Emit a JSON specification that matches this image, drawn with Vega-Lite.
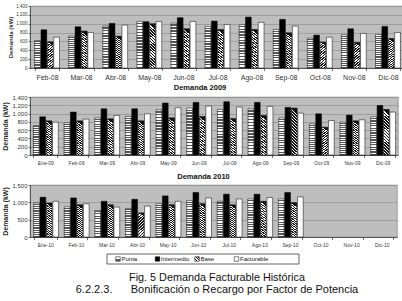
{
  "$schema": "https://vega.github.io/schema/vega-lite/v6.json",
  "padding": {"left": 1, "top": 2, "right": 0, "bottom": 0},
  "background": "white",
  "config": {
    "font": "Liberation Sans",
    "text": {"opacity": 0.99},
    "title": {"opacity": 0.99},
    "axis": {"labelColor": "#222", "titleColor": "#222", "labelOpacity": 0.99, "titleOpacity": 0.99, "domainColor": "#333", "tickColor": "#333", "domainWidth": 0.7, "tickWidth": 0.7, "gridColor": "#888", "gridWidth": 0.6}
  },
  "datasets": {
    "d08": [
      {"mes": "Feb-08", "Punta": 620, "Intermedio": 863, "Base": 590, "Facturable": 696},
      {"mes": "Mar-08", "Punta": 720, "Intermedio": 931, "Base": 833, "Facturable": 802},
      {"mes": "Abr-08", "Punta": 946, "Intermedio": 1007, "Base": 719, "Facturable": 969},
      {"mes": "May-08", "Punta": 1052, "Intermedio": 1045, "Base": 1000, "Facturable": 1052},
      {"mes": "Jun-08", "Punta": 1014, "Intermedio": 1136, "Base": 886, "Facturable": 1052},
      {"mes": "Jul-08", "Punta": 940, "Intermedio": 1060, "Base": 870, "Facturable": 984},
      {"mes": "Ago-08", "Punta": 977, "Intermedio": 1150, "Base": 870, "Facturable": 1030},
      {"mes": "Sep-08", "Punta": 870, "Intermedio": 1098, "Base": 795, "Facturable": 946},
      {"mes": "Oct-08", "Punta": 674, "Intermedio": 742, "Base": 583, "Facturable": 696},
      {"mes": "Nov-08", "Punta": 750, "Intermedio": 886, "Base": 575, "Facturable": 780},
      {"mes": "Dic-08", "Punta": 757, "Intermedio": 939, "Base": 666, "Facturable": 802}
    ],
    "d09": [
      {"mes": "Ene-09", "Punta": 712, "Intermedio": 922, "Base": 825, "Facturable": 793},
      {"mes": "Feb-09", "Punta": 777, "Intermedio": 1036, "Base": 825, "Facturable": 866},
      {"mes": "Mar-09", "Punta": 898, "Intermedio": 1116, "Base": 874, "Facturable": 955},
      {"mes": "Abr-09", "Punta": 930, "Intermedio": 1116, "Base": 825, "Facturable": 995},
      {"mes": "May-09", "Punta": 1092, "Intermedio": 1254, "Base": 898, "Facturable": 1141},
      {"mes": "Jun-09", "Punta": 1133, "Intermedio": 1270, "Base": 930, "Facturable": 1181},
      {"mes": "Jul-09", "Punta": 1100, "Intermedio": 1286, "Base": 882, "Facturable": 1157},
      {"mes": "Ago-09", "Punta": 1116, "Intermedio": 1270, "Base": 955, "Facturable": 1173},
      {"mes": "Sep-09", "Punta": 898, "Intermedio": 1149, "Base": 1133, "Facturable": 1011},
      {"mes": "Oct-09", "Punta": 752, "Intermedio": 995, "Base": 671, "Facturable": 833},
      {"mes": "Nov-09", "Punta": 793, "Intermedio": 963, "Base": 825, "Facturable": 850},
      {"mes": "Dic-09", "Punta": 922, "Intermedio": 1197, "Base": 1100, "Facturable": 1036}
    ],
    "d10": [
      {"mes": "Ene-10", "Punta": 980, "Intermedio": 1147, "Base": 980, "Facturable": 1029},
      {"mes": "Feb-10", "Punta": 872, "Intermedio": 1127, "Base": 931, "Facturable": 960},
      {"mes": "Mar-10", "Punta": 764, "Intermedio": 1029, "Base": 931, "Facturable": 862},
      {"mes": "Abr-10", "Punta": 823, "Intermedio": 1088, "Base": 696, "Facturable": 892},
      {"mes": "May-10", "Punta": 960, "Intermedio": 1186, "Base": 931, "Facturable": 1029},
      {"mes": "Jun-10", "Punta": 1049, "Intermedio": 1284, "Base": 960, "Facturable": 1127},
      {"mes": "Jul-10", "Punta": 1029, "Intermedio": 1235, "Base": 931, "Facturable": 1098},
      {"mes": "Ago-10", "Punta": 1098, "Intermedio": 1235, "Base": 1029, "Facturable": 1137},
      {"mes": "Sep-10", "Punta": 1098, "Intermedio": 1284, "Base": 990, "Facturable": 1157}
    ],
    "series": [{"serie": "Punta"}, {"serie": "Intermedio"}, {"serie": "Base"}, {"serie": "Facturable"}]
  },
  "title": {
    "text": "Fig. 5 Demanda Facturable Histórica\u00a0\u00a0\u00a0\u00a0\u00a0\u00a0\u00a0\u00a0\u00a0\u00a0\u00a0\u00a0\u00a0",
    "subtitle": "6.2.2.3.\u00a0\u00a0\u00a0\u00a0\u00a0\u00a0Bonificación o Recargo por Factor de Potencia",
    "orient": "bottom", "anchor": "middle", "frame": "bounds",
    "fontSize": 10.8, "fontWeight": "normal", "color": "#111",
    "subtitleFontSize": 11, "subtitleColor": "#111", "subtitlePadding": 2,
    "dx": 13.5, "offset": 7
  },
  "columns": 1,
  "align": "none",
  "spacing": 2,
  "concat": [
    {
      "data": {"name": "d08"},
      "transform": [{"fold": ["Punta", "Intermedio", "Base", "Facturable"], "as": ["serie", "kw"]}],
      "width": 375,
      "height": 62,
      "view": {"fill": "#bebebe", "stroke": "#808080", "strokeWidth": 0.7},
      "mark": {"type": "bar", "stroke": "black", "strokeWidth": 0.5},
      "encoding": {
        "x": {"field": "mes", "type": "ordinal", "sort": null, "scale": {"paddingInner": 0.27, "paddingOuter": 0.135},
              "axis": {"title": null, "labelAngle": 0, "labelFontSize": 7, "labelPadding": 3, "tickSize": 2.5, "tickBand": "extent"}},
        "xOffset": {"field": "serie", "sort": ["Punta", "Intermedio", "Base", "Facturable"], "scale": {"paddingInner": 0.1}},
        "y": {"field": "kw", "type": "quantitative", "scale": {"domain": [0, 1400]},
              "axis": {"values": [0, 200, 400, 600, 800, 1000, 1200, 1400], "format": ",d", "title": "Demanda (kW)", "titleFontSize": 6, "titlePadding": 2, "labelFontSize": 4.5, "labelPadding": 1, "tickSize": 2}},
        "fill": {"condition": [
          {"test": "datum.serie === 'Intermedio'", "value": "black"},
          {"test": "datum.serie === 'Punta'", "value": {"gradient": "linear", "x1": 0, "y1": 0, "x2": 0, "y2": 1, "stops": [{"offset":0,"color":"#fff"},{"offset":0.03125,"color":"#fff"},{"offset":0.03125,"color":"#555"},{"offset":0.0625,"color":"#555"},{"offset":0.0625,"color":"#fff"},{"offset":0.09375,"color":"#fff"},{"offset":0.09375,"color":"#555"},{"offset":0.125,"color":"#555"},{"offset":0.125,"color":"#fff"},{"offset":0.15625,"color":"#fff"},{"offset":0.15625,"color":"#555"},{"offset":0.1875,"color":"#555"},{"offset":0.1875,"color":"#fff"},{"offset":0.21875,"color":"#fff"},{"offset":0.21875,"color":"#555"},{"offset":0.25,"color":"#555"},{"offset":0.25,"color":"#fff"},{"offset":0.28125,"color":"#fff"},{"offset":0.28125,"color":"#555"},{"offset":0.3125,"color":"#555"},{"offset":0.3125,"color":"#fff"},{"offset":0.34375,"color":"#fff"},{"offset":0.34375,"color":"#555"},{"offset":0.375,"color":"#555"},{"offset":0.375,"color":"#fff"},{"offset":0.40625,"color":"#fff"},{"offset":0.40625,"color":"#555"},{"offset":0.4375,"color":"#555"},{"offset":0.4375,"color":"#fff"},{"offset":0.46875,"color":"#fff"},{"offset":0.46875,"color":"#555"},{"offset":0.5,"color":"#555"},{"offset":0.5,"color":"#fff"},{"offset":0.53125,"color":"#fff"},{"offset":0.53125,"color":"#555"},{"offset":0.5625,"color":"#555"},{"offset":0.5625,"color":"#fff"},{"offset":0.59375,"color":"#fff"},{"offset":0.59375,"color":"#555"},{"offset":0.625,"color":"#555"},{"offset":0.625,"color":"#fff"},{"offset":0.65625,"color":"#fff"},{"offset":0.65625,"color":"#555"},{"offset":0.6875,"color":"#555"},{"offset":0.6875,"color":"#fff"},{"offset":0.71875,"color":"#fff"},{"offset":0.71875,"color":"#555"},{"offset":0.75,"color":"#555"},{"offset":0.75,"color":"#fff"},{"offset":0.78125,"color":"#fff"},{"offset":0.78125,"color":"#555"},{"offset":0.8125,"color":"#555"},{"offset":0.8125,"color":"#fff"},{"offset":0.84375,"color":"#fff"},{"offset":0.84375,"color":"#555"},{"offset":0.875,"color":"#555"},{"offset":0.875,"color":"#fff"},{"offset":0.90625,"color":"#fff"},{"offset":0.90625,"color":"#555"},{"offset":0.9375,"color":"#555"},{"offset":0.9375,"color":"#fff"},{"offset":0.96875,"color":"#fff"},{"offset":0.96875,"color":"#555"},{"offset":1,"color":"#555"}]}},
          {"test": "datum.serie === 'Base'", "value": {"gradient": "linear", "x1": 0, "y1": 1, "x2": 0.12, "y2": 0, "stops": [{"offset":0,"color":"#fff"},{"offset":0.03125,"color":"#fff"},{"offset":0.03125,"color":"#111"},{"offset":0.0625,"color":"#111"},{"offset":0.0625,"color":"#fff"},{"offset":0.09375,"color":"#fff"},{"offset":0.09375,"color":"#111"},{"offset":0.125,"color":"#111"},{"offset":0.125,"color":"#fff"},{"offset":0.15625,"color":"#fff"},{"offset":0.15625,"color":"#111"},{"offset":0.1875,"color":"#111"},{"offset":0.1875,"color":"#fff"},{"offset":0.21875,"color":"#fff"},{"offset":0.21875,"color":"#111"},{"offset":0.25,"color":"#111"},{"offset":0.25,"color":"#fff"},{"offset":0.28125,"color":"#fff"},{"offset":0.28125,"color":"#111"},{"offset":0.3125,"color":"#111"},{"offset":0.3125,"color":"#fff"},{"offset":0.34375,"color":"#fff"},{"offset":0.34375,"color":"#111"},{"offset":0.375,"color":"#111"},{"offset":0.375,"color":"#fff"},{"offset":0.40625,"color":"#fff"},{"offset":0.40625,"color":"#111"},{"offset":0.4375,"color":"#111"},{"offset":0.4375,"color":"#fff"},{"offset":0.46875,"color":"#fff"},{"offset":0.46875,"color":"#111"},{"offset":0.5,"color":"#111"},{"offset":0.5,"color":"#fff"},{"offset":0.53125,"color":"#fff"},{"offset":0.53125,"color":"#111"},{"offset":0.5625,"color":"#111"},{"offset":0.5625,"color":"#fff"},{"offset":0.59375,"color":"#fff"},{"offset":0.59375,"color":"#111"},{"offset":0.625,"color":"#111"},{"offset":0.625,"color":"#fff"},{"offset":0.65625,"color":"#fff"},{"offset":0.65625,"color":"#111"},{"offset":0.6875,"color":"#111"},{"offset":0.6875,"color":"#fff"},{"offset":0.71875,"color":"#fff"},{"offset":0.71875,"color":"#111"},{"offset":0.75,"color":"#111"},{"offset":0.75,"color":"#fff"},{"offset":0.78125,"color":"#fff"},{"offset":0.78125,"color":"#111"},{"offset":0.8125,"color":"#111"},{"offset":0.8125,"color":"#fff"},{"offset":0.84375,"color":"#fff"},{"offset":0.84375,"color":"#111"},{"offset":0.875,"color":"#111"},{"offset":0.875,"color":"#fff"},{"offset":0.90625,"color":"#fff"},{"offset":0.90625,"color":"#111"},{"offset":0.9375,"color":"#111"},{"offset":0.9375,"color":"#fff"},{"offset":0.96875,"color":"#fff"},{"offset":0.96875,"color":"#111"},{"offset":1,"color":"#111"}]}}
        ], "value": "white"}
      }
    },
    {
      "columns": 1,
      "align": "none",
      "spacing": 6,
      "concat": [
        {
          "data": {"name": "d09"},
          "transform": [{"fold": ["Punta", "Intermedio", "Base", "Facturable"], "as": ["serie", "kw"]}],
          "title": {"text": "Demanda 2009", "fontSize": 7.5, "fontWeight": "bold", "frame": "bounds", "anchor": "middle", "offset": 3, "color": "#111"},
          "width": 368,
          "height": 58,
          "view": {"fill": "#bebebe", "stroke": "#808080", "strokeWidth": 0.7},
          "mark": {"type": "bar", "stroke": "black", "strokeWidth": 0.5},
          "encoding": {
            "x": {"field": "mes", "type": "ordinal", "sort": null, "scale": {"paddingInner": 0.22, "paddingOuter": 0.11},
                  "axis": {"title": null, "labelAngle": 0, "labelFontSize": 5, "labelPadding": 3, "tickSize": 2.5, "tickBand": "extent"}},
            "xOffset": {"field": "serie", "sort": ["Punta", "Intermedio", "Base", "Facturable"], "scale": {"paddingInner": 0.1}},
            "y": {"field": "kw", "type": "quantitative", "scale": {"domain": [0, 1400]},
                  "axis": {"values": [0, 200, 400, 600, 800, 1000, 1200, 1400], "format": ",d", "title": "Demanda (kW)", "titleFontSize": 7, "titlePadding": 3, "labelFontSize": 6, "labelPadding": 1, "tickSize": 2}},
            "fill": {"condition": [
              {"test": "datum.serie === 'Intermedio'", "value": "black"},
              {"test": "datum.serie === 'Punta'", "value": {"gradient": "linear", "x1": 0, "y1": 0, "x2": 0, "y2": 1, "stops": [{"offset":0,"color":"#fff"},{"offset":0.03125,"color":"#fff"},{"offset":0.03125,"color":"#555"},{"offset":0.0625,"color":"#555"},{"offset":0.0625,"color":"#fff"},{"offset":0.09375,"color":"#fff"},{"offset":0.09375,"color":"#555"},{"offset":0.125,"color":"#555"},{"offset":0.125,"color":"#fff"},{"offset":0.15625,"color":"#fff"},{"offset":0.15625,"color":"#555"},{"offset":0.1875,"color":"#555"},{"offset":0.1875,"color":"#fff"},{"offset":0.21875,"color":"#fff"},{"offset":0.21875,"color":"#555"},{"offset":0.25,"color":"#555"},{"offset":0.25,"color":"#fff"},{"offset":0.28125,"color":"#fff"},{"offset":0.28125,"color":"#555"},{"offset":0.3125,"color":"#555"},{"offset":0.3125,"color":"#fff"},{"offset":0.34375,"color":"#fff"},{"offset":0.34375,"color":"#555"},{"offset":0.375,"color":"#555"},{"offset":0.375,"color":"#fff"},{"offset":0.40625,"color":"#fff"},{"offset":0.40625,"color":"#555"},{"offset":0.4375,"color":"#555"},{"offset":0.4375,"color":"#fff"},{"offset":0.46875,"color":"#fff"},{"offset":0.46875,"color":"#555"},{"offset":0.5,"color":"#555"},{"offset":0.5,"color":"#fff"},{"offset":0.53125,"color":"#fff"},{"offset":0.53125,"color":"#555"},{"offset":0.5625,"color":"#555"},{"offset":0.5625,"color":"#fff"},{"offset":0.59375,"color":"#fff"},{"offset":0.59375,"color":"#555"},{"offset":0.625,"color":"#555"},{"offset":0.625,"color":"#fff"},{"offset":0.65625,"color":"#fff"},{"offset":0.65625,"color":"#555"},{"offset":0.6875,"color":"#555"},{"offset":0.6875,"color":"#fff"},{"offset":0.71875,"color":"#fff"},{"offset":0.71875,"color":"#555"},{"offset":0.75,"color":"#555"},{"offset":0.75,"color":"#fff"},{"offset":0.78125,"color":"#fff"},{"offset":0.78125,"color":"#555"},{"offset":0.8125,"color":"#555"},{"offset":0.8125,"color":"#fff"},{"offset":0.84375,"color":"#fff"},{"offset":0.84375,"color":"#555"},{"offset":0.875,"color":"#555"},{"offset":0.875,"color":"#fff"},{"offset":0.90625,"color":"#fff"},{"offset":0.90625,"color":"#555"},{"offset":0.9375,"color":"#555"},{"offset":0.9375,"color":"#fff"},{"offset":0.96875,"color":"#fff"},{"offset":0.96875,"color":"#555"},{"offset":1,"color":"#555"}]}},
              {"test": "datum.serie === 'Base'", "value": {"gradient": "linear", "x1": 0, "y1": 1, "x2": 0.12, "y2": 0, "stops": [{"offset":0,"color":"#fff"},{"offset":0.03125,"color":"#fff"},{"offset":0.03125,"color":"#111"},{"offset":0.0625,"color":"#111"},{"offset":0.0625,"color":"#fff"},{"offset":0.09375,"color":"#fff"},{"offset":0.09375,"color":"#111"},{"offset":0.125,"color":"#111"},{"offset":0.125,"color":"#fff"},{"offset":0.15625,"color":"#fff"},{"offset":0.15625,"color":"#111"},{"offset":0.1875,"color":"#111"},{"offset":0.1875,"color":"#fff"},{"offset":0.21875,"color":"#fff"},{"offset":0.21875,"color":"#111"},{"offset":0.25,"color":"#111"},{"offset":0.25,"color":"#fff"},{"offset":0.28125,"color":"#fff"},{"offset":0.28125,"color":"#111"},{"offset":0.3125,"color":"#111"},{"offset":0.3125,"color":"#fff"},{"offset":0.34375,"color":"#fff"},{"offset":0.34375,"color":"#111"},{"offset":0.375,"color":"#111"},{"offset":0.375,"color":"#fff"},{"offset":0.40625,"color":"#fff"},{"offset":0.40625,"color":"#111"},{"offset":0.4375,"color":"#111"},{"offset":0.4375,"color":"#fff"},{"offset":0.46875,"color":"#fff"},{"offset":0.46875,"color":"#111"},{"offset":0.5,"color":"#111"},{"offset":0.5,"color":"#fff"},{"offset":0.53125,"color":"#fff"},{"offset":0.53125,"color":"#111"},{"offset":0.5625,"color":"#111"},{"offset":0.5625,"color":"#fff"},{"offset":0.59375,"color":"#fff"},{"offset":0.59375,"color":"#111"},{"offset":0.625,"color":"#111"},{"offset":0.625,"color":"#fff"},{"offset":0.65625,"color":"#fff"},{"offset":0.65625,"color":"#111"},{"offset":0.6875,"color":"#111"},{"offset":0.6875,"color":"#fff"},{"offset":0.71875,"color":"#fff"},{"offset":0.71875,"color":"#111"},{"offset":0.75,"color":"#111"},{"offset":0.75,"color":"#fff"},{"offset":0.78125,"color":"#fff"},{"offset":0.78125,"color":"#111"},{"offset":0.8125,"color":"#111"},{"offset":0.8125,"color":"#fff"},{"offset":0.84375,"color":"#fff"},{"offset":0.84375,"color":"#111"},{"offset":0.875,"color":"#111"},{"offset":0.875,"color":"#fff"},{"offset":0.90625,"color":"#fff"},{"offset":0.90625,"color":"#111"},{"offset":0.9375,"color":"#111"},{"offset":0.9375,"color":"#fff"},{"offset":0.96875,"color":"#fff"},{"offset":0.96875,"color":"#111"},{"offset":1,"color":"#111"}]}}
            ], "value": "white"}
          }
        },
        {
          "title": {"text": "Demanda 2010", "fontSize": 7.5, "fontWeight": "bold", "frame": "group", "anchor": "middle", "offset": 2, "dx": -10, "color": "#111"},
          "width": 367,
          "height": 52,
          "view": {"fill": "#bebebe", "stroke": "#808080", "strokeWidth": 0.7},
          "resolve": {"scale": {"x": "independent", "y": "independent"}},
          "layer": [
            {
              "data": {"name": "d10"},
              "transform": [{"fold": ["Punta", "Intermedio", "Base", "Facturable"], "as": ["serie", "kw"]}],
              "mark": {"type": "bar", "stroke": "black", "strokeWidth": 0.5},
              "encoding": {
                "x": {"field": "mes", "type": "ordinal", "sort": null,
                      "scale": {"domain": ["Ene-10", "Feb-10", "Mar-10", "Abr-10", "May-10", "Jun-10", "Jul-10", "Ago-10", "Sep-10", "Oct-10", "Nov-10", "Dic-10"], "paddingInner": 0.24, "paddingOuter": 0.12},
                      "axis": {"title": null, "labelAngle": 0, "labelFontSize": 5, "labelPadding": 3, "tickSize": 2.5, "tickBand": "extent"}},
                "xOffset": {"field": "serie", "sort": ["Punta", "Intermedio", "Base", "Facturable"], "scale": {"paddingInner": 0.1}},
                "y": {"field": "kw", "type": "quantitative", "scale": {"domain": [0, 1500]},
                      "axis": {"values": [0, 500, 1000, 1500], "format": ",d", "title": "Demanda (kW)", "titleFontSize": 7, "titlePadding": 3, "labelFontSize": 6, "labelPadding": 1, "tickSize": 2}},
                "fill": {"condition": [
                  {"test": "datum.serie === 'Intermedio'", "value": "black"},
                  {"test": "datum.serie === 'Punta'", "value": {"gradient": "linear", "x1": 0, "y1": 0, "x2": 0, "y2": 1, "stops": [{"offset":0,"color":"#fff"},{"offset":0.03125,"color":"#fff"},{"offset":0.03125,"color":"#555"},{"offset":0.0625,"color":"#555"},{"offset":0.0625,"color":"#fff"},{"offset":0.09375,"color":"#fff"},{"offset":0.09375,"color":"#555"},{"offset":0.125,"color":"#555"},{"offset":0.125,"color":"#fff"},{"offset":0.15625,"color":"#fff"},{"offset":0.15625,"color":"#555"},{"offset":0.1875,"color":"#555"},{"offset":0.1875,"color":"#fff"},{"offset":0.21875,"color":"#fff"},{"offset":0.21875,"color":"#555"},{"offset":0.25,"color":"#555"},{"offset":0.25,"color":"#fff"},{"offset":0.28125,"color":"#fff"},{"offset":0.28125,"color":"#555"},{"offset":0.3125,"color":"#555"},{"offset":0.3125,"color":"#fff"},{"offset":0.34375,"color":"#fff"},{"offset":0.34375,"color":"#555"},{"offset":0.375,"color":"#555"},{"offset":0.375,"color":"#fff"},{"offset":0.40625,"color":"#fff"},{"offset":0.40625,"color":"#555"},{"offset":0.4375,"color":"#555"},{"offset":0.4375,"color":"#fff"},{"offset":0.46875,"color":"#fff"},{"offset":0.46875,"color":"#555"},{"offset":0.5,"color":"#555"},{"offset":0.5,"color":"#fff"},{"offset":0.53125,"color":"#fff"},{"offset":0.53125,"color":"#555"},{"offset":0.5625,"color":"#555"},{"offset":0.5625,"color":"#fff"},{"offset":0.59375,"color":"#fff"},{"offset":0.59375,"color":"#555"},{"offset":0.625,"color":"#555"},{"offset":0.625,"color":"#fff"},{"offset":0.65625,"color":"#fff"},{"offset":0.65625,"color":"#555"},{"offset":0.6875,"color":"#555"},{"offset":0.6875,"color":"#fff"},{"offset":0.71875,"color":"#fff"},{"offset":0.71875,"color":"#555"},{"offset":0.75,"color":"#555"},{"offset":0.75,"color":"#fff"},{"offset":0.78125,"color":"#fff"},{"offset":0.78125,"color":"#555"},{"offset":0.8125,"color":"#555"},{"offset":0.8125,"color":"#fff"},{"offset":0.84375,"color":"#fff"},{"offset":0.84375,"color":"#555"},{"offset":0.875,"color":"#555"},{"offset":0.875,"color":"#fff"},{"offset":0.90625,"color":"#fff"},{"offset":0.90625,"color":"#555"},{"offset":0.9375,"color":"#555"},{"offset":0.9375,"color":"#fff"},{"offset":0.96875,"color":"#fff"},{"offset":0.96875,"color":"#555"},{"offset":1,"color":"#555"}]}},
                  {"test": "datum.serie === 'Base'", "value": {"gradient": "linear", "x1": 0, "y1": 1, "x2": 0.12, "y2": 0, "stops": [{"offset":0,"color":"#fff"},{"offset":0.03125,"color":"#fff"},{"offset":0.03125,"color":"#111"},{"offset":0.0625,"color":"#111"},{"offset":0.0625,"color":"#fff"},{"offset":0.09375,"color":"#fff"},{"offset":0.09375,"color":"#111"},{"offset":0.125,"color":"#111"},{"offset":0.125,"color":"#fff"},{"offset":0.15625,"color":"#fff"},{"offset":0.15625,"color":"#111"},{"offset":0.1875,"color":"#111"},{"offset":0.1875,"color":"#fff"},{"offset":0.21875,"color":"#fff"},{"offset":0.21875,"color":"#111"},{"offset":0.25,"color":"#111"},{"offset":0.25,"color":"#fff"},{"offset":0.28125,"color":"#fff"},{"offset":0.28125,"color":"#111"},{"offset":0.3125,"color":"#111"},{"offset":0.3125,"color":"#fff"},{"offset":0.34375,"color":"#fff"},{"offset":0.34375,"color":"#111"},{"offset":0.375,"color":"#111"},{"offset":0.375,"color":"#fff"},{"offset":0.40625,"color":"#fff"},{"offset":0.40625,"color":"#111"},{"offset":0.4375,"color":"#111"},{"offset":0.4375,"color":"#fff"},{"offset":0.46875,"color":"#fff"},{"offset":0.46875,"color":"#111"},{"offset":0.5,"color":"#111"},{"offset":0.5,"color":"#fff"},{"offset":0.53125,"color":"#fff"},{"offset":0.53125,"color":"#111"},{"offset":0.5625,"color":"#111"},{"offset":0.5625,"color":"#fff"},{"offset":0.59375,"color":"#fff"},{"offset":0.59375,"color":"#111"},{"offset":0.625,"color":"#111"},{"offset":0.625,"color":"#fff"},{"offset":0.65625,"color":"#fff"},{"offset":0.65625,"color":"#111"},{"offset":0.6875,"color":"#111"},{"offset":0.6875,"color":"#fff"},{"offset":0.71875,"color":"#fff"},{"offset":0.71875,"color":"#111"},{"offset":0.75,"color":"#111"},{"offset":0.75,"color":"#fff"},{"offset":0.78125,"color":"#fff"},{"offset":0.78125,"color":"#111"},{"offset":0.8125,"color":"#111"},{"offset":0.8125,"color":"#fff"},{"offset":0.84375,"color":"#fff"},{"offset":0.84375,"color":"#111"},{"offset":0.875,"color":"#111"},{"offset":0.875,"color":"#fff"},{"offset":0.90625,"color":"#fff"},{"offset":0.90625,"color":"#111"},{"offset":0.9375,"color":"#111"},{"offset":0.9375,"color":"#fff"},{"offset":0.96875,"color":"#fff"},{"offset":0.96875,"color":"#111"},{"offset":1,"color":"#111"}]}}
                ], "value": "white"}
              }
            },
            {
              "data": {"values": [{"marco": "leyenda"}]},
              "mark": {"type": "rect", "fill": "white", "stroke": "black", "strokeWidth": 0.6, "xOffset": -11, "x2Offset": 62.5, "yOffset": -5, "y2Offset": 5},
              "encoding": {
                "x": {"datum": "Punta", "type": "nominal", "scale": {"type": "point", "padding": 0, "domain": ["Punta", "Intermedio", "Base", "Facturable"], "range": [88, 206.5]}, "axis": null},
                "x2": {"datum": "Facturable"},
                "y": {"datum": "leyenda", "type": "nominal", "scale": {"type": "point", "padding": 0, "domain": ["leyenda"], "range": [74, 74]}, "axis": null},
                "y2": {"datum": "leyenda"}
              }
            },
            {
              "data": {"name": "series"},
              "mark": {"type": "point", "shape": "square", "size": 20, "filled": true, "opacity": 1, "stroke": "black", "strokeWidth": 0.5},
              "encoding": {
                "x": {"field": "serie", "type": "nominal", "scale": {"type": "point", "padding": 0, "domain": ["Punta", "Intermedio", "Base", "Facturable"], "range": [88, 206.5]}, "axis": null},
                "y": {"datum": "leyenda", "type": "nominal", "scale": {"type": "point", "padding": 0, "domain": ["leyenda"], "range": [74, 74]}, "axis": null},
                "fill": {"condition": [
                  {"test": "datum.serie === 'Intermedio'", "value": "black"},
                  {"test": "datum.serie === 'Punta'", "value": {"gradient": "linear", "x1": 0, "y1": 0, "x2": 0, "y2": 1, "stops": [{"offset":0,"color":"#fff"},{"offset":0.1667,"color":"#fff"},{"offset":0.1667,"color":"#666"},{"offset":0.3333,"color":"#666"},{"offset":0.3333,"color":"#fff"},{"offset":0.5,"color":"#fff"},{"offset":0.5,"color":"#666"},{"offset":0.6667,"color":"#666"},{"offset":0.6667,"color":"#fff"},{"offset":0.8333,"color":"#fff"},{"offset":0.8333,"color":"#666"},{"offset":1,"color":"#666"}]}},
                  {"test": "datum.serie === 'Base'", "value": {"gradient": "linear", "x1": 0, "y1": 1, "x2": 1, "y2": 0, "stops": [{"offset":0,"color":"#fff"},{"offset":0.1667,"color":"#fff"},{"offset":0.1667,"color":"#111"},{"offset":0.3333,"color":"#111"},{"offset":0.3333,"color":"#fff"},{"offset":0.5,"color":"#fff"},{"offset":0.5,"color":"#111"},{"offset":0.6667,"color":"#111"},{"offset":0.6667,"color":"#fff"},{"offset":0.8333,"color":"#fff"},{"offset":0.8333,"color":"#111"},{"offset":1,"color":"#111"}]}}
                ], "value": "white"}
              }
            },
            {
              "data": {"name": "series"},
              "mark": {"type": "text", "align": "left", "baseline": "middle", "dx": 3.5, "fontSize": 6, "color": "#111"},
              "encoding": {
                "x": {"field": "serie", "type": "nominal", "scale": {"type": "point", "padding": 0, "domain": ["Punta", "Intermedio", "Base", "Facturable"], "range": [88, 206.5]}, "axis": null},
                "y": {"datum": "leyenda", "type": "nominal", "scale": {"type": "point", "padding": 0, "domain": ["leyenda"], "range": [74, 74]}, "axis": null},
                "text": {"field": "serie"}
              }
            }
          ]
        }
      ]
    }
  ]
}
